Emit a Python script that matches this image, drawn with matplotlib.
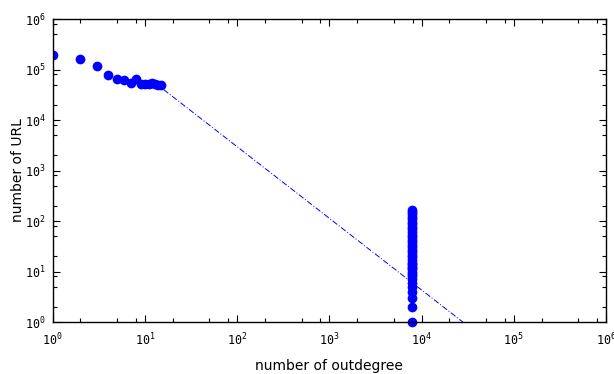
import math
import matplotlib
matplotlib.use("Agg")
import matplotlib.pyplot as plt
from matplotlib.ticker import LogLocator, FixedLocator, FuncFormatter, NullFormatter

# data
low_x = [1, 2, 3, 4, 5, 6, 7, 8, 9, 10, 11, 12, 13, 14, 15]
low_y = [194000, 160000, 119000, 79000, 65000, 63000, 54000, 66000,
         52000, 52000, 52000, 55000, 51000, 50000, 50000]
col_x = 7900
col_y = [1, 2, 3, 4, 5, 6, 7, 8, 9, 10, 11, 12, 13, 14, 15, 17, 19, 21, 24,
         27, 30, 34, 38, 43, 48, 54, 61, 68, 77, 86, 97, 109, 122, 137, 154, 165]
fit_x = [16, 28000]
fit_y = [40000, 1.0]
decades = [1, 10, 100, 1000, 10000, 100000, 1000000]

plt.rcParams['mathtext.fontset'] = 'custom'
plt.rcParams['mathtext.rm'] = 'DejaVu Sans Mono'
plt.rcParams['mathtext.it'] = 'DejaVu Sans Mono'

fig = plt.figure(figsize=(6.14, 3.74), dpi=100)
ax = fig.add_axes([0.0858, 0.139, 0.9012, 0.810])

blue = (0, 0, 1)
ax.plot(fit_x, fit_y, linestyle='-.', color=blue, linewidth=0.7, dashes=(6, 2, 1, 2))
ax.plot(low_x, low_y, 'o', color=blue, markersize=7, markeredgewidth=0)
ax.plot([col_x] * len(col_y), col_y, 'o', color=blue, markersize=7,
        markeredgewidth=0, clip_on=False)

ax.set_xscale('log')
ax.set_yscale('log')
ax.set_xlim(1, 1e6)
ax.set_ylim(1, 1e6)

fmt = FuncFormatter(lambda v, p: r'$\mathregular{10^{%d}}$' % round(math.log10(v)))
for axis in (ax.xaxis, ax.yaxis):
    axis.set_major_locator(FixedLocator(decades))
    axis.set_major_formatter(fmt)
    axis.set_minor_locator(LogLocator(base=10, subs=[2, 5, 8]))
    axis.set_minor_formatter(NullFormatter())

ax.tick_params(which='both', direction='in', top=True, right=True, width=0.8)
ax.tick_params(which='major', length=5, labelsize=8.5, pad=7)
ax.tick_params(axis='y', which='major', pad=5)
ax.tick_params(which='minor', length=3)
for lab in ax.get_xticklabels() + ax.get_yticklabels():
    lab.set_family('DejaVu Sans Mono')
for s in ax.spines.values():
    s.set_linewidth(1.0)

ax.set_xlabel('number of outdegree', fontsize=10, labelpad=8)
ax.set_ylabel('number of URL', fontsize=10, labelpad=0)

fig.savefig('out.png', dpi=100)
